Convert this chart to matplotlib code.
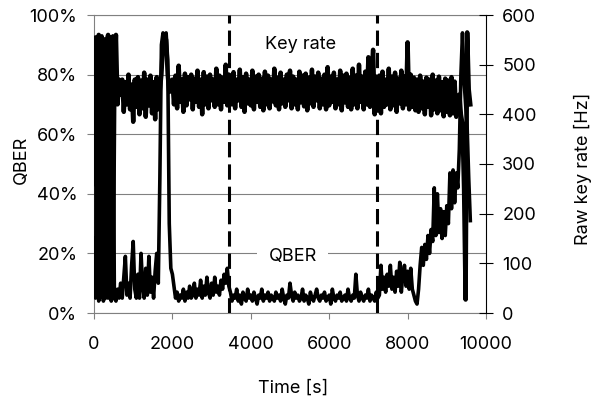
import matplotlib
matplotlib.use("Agg")
import matplotlib.pyplot as plt
import numpy as np
from matplotlib.ticker import PercentFormatter

plt.rcParams['font.family'] = ['Inter', 'DejaVu Sans']
plt.rcParams['path.simplify'] = False

# time axis, one sample every 40 s
time = np.arange(0, 9601, 40)

# raw key rate [Hz]
key_start = [260, 555, 40, 560, 520, 35, 550, 30, 545, 560, 40, 555, 30, 470, 560, 420, 470, 440]
key_early = [470, 405, 465, 420, 480, 410, 460, 385, 470, 415, 475, 400, 468, 412, 484, 395,
             470, 418, 478, 402, 465, 390, 475, 410]
key_spike = [450, 480, 545, 560, 550, 480, 445, 465]
key_mid1 = [470, 420, 478, 412, 498, 425, 470, 405, 482, 418, 475, 430, 480, 410, 472, 425,
            488, 415, 470, 400, 485, 420, 476, 412, 480, 428, 470, 415, 492, 420, 478, 410,
            474, 425, 500, 418, 480]
key_mid2 = [478, 420, 485, 412, 470, 428, 490, 415, 475, 405, 482, 422, 470, 418, 488, 410, 476, 425, 480, 415,
            472, 408, 486, 420, 478, 412, 470, 426, 492, 418, 474, 410, 484, 422, 470, 415, 480, 428, 488, 412,
            476, 420, 470, 410, 486, 424, 478, 416, 482, 408, 474, 422, 490, 415, 476, 428, 484, 412, 472, 420,
            480, 410, 495, 418, 476, 425, 484, 412, 470, 420, 488, 408, 478, 424, 482, 415, 474, 410, 492, 420,
            478, 412, 500, 425, 476, 410, 486, 420, 515, 415, 480, 530, 400, 476, 418]
key_mid3 = [478, 402, 486, 415, 470, 420, 492, 410, 476, 418, 484, 405, 472, 422, 488, 412,
            476, 420, 545, 410, 480, 415, 474, 408]
key_late = [470, 405, 478, 412, 466, 400, 474, 415, 470, 398, 480, 410, 468, 402, 476, 408,
            465, 396, 472, 405, 468, 398, 475, 402, 466, 395]
key_end = [415, 440, 400, 380, 250, 27, 565, 450, 420]

# QBER as fraction
qber_start = [0.25, 0.05, 0.92, 0.04, 0.06, 0.93, 0.04, 0.92, 0.06, 0.05, 0.90, 0.04, 0.93, 0.05,
              0.04, 0.08, 0.05, 0.10]
qber_early = [0.05, 0.12, 0.19, 0.06, 0.10, 0.05, 0.16, 0.24, 0.08, 0.05, 0.13, 0.05, 0.20, 0.09,
              0.05, 0.15, 0.06, 0.19, 0.07, 0.12, 0.05, 0.14, 0.20, 0.10]
qber_spike = [0.45, 0.90, 0.94, 0.93, 0.94, 0.85, 0.30, 0.15]
qber_mid1 = [0.13, 0.09, 0.05, 0.07, 0.04, 0.06, 0.05, 0.08, 0.04, 0.07, 0.05, 0.09, 0.05, 0.06,
             0.10, 0.05, 0.08, 0.06, 0.11, 0.05, 0.09, 0.06, 0.12, 0.07, 0.05, 0.10, 0.06, 0.12,
             0.07, 0.09, 0.06, 0.11, 0.08, 0.13, 0.10, 0.15, 0.09]
qber_mid2 = [0.07, 0.04, 0.06, 0.05, 0.08, 0.04, 0.06, 0.03, 0.07, 0.05, 0.04, 0.08, 0.05, 0.06, 0.04, 0.07, 0.05, 0.03, 0.06, 0.05,
             0.08, 0.04, 0.06, 0.05, 0.07, 0.04, 0.06, 0.05, 0.04, 0.07, 0.05, 0.06, 0.04, 0.08, 0.05, 0.03, 0.06, 0.05, 0.10, 0.06,
             0.04, 0.07, 0.05, 0.06, 0.04, 0.05, 0.08, 0.04, 0.06, 0.05, 0.03, 0.07, 0.05, 0.04, 0.06, 0.08, 0.05, 0.04, 0.06, 0.05,
             0.07, 0.04, 0.05, 0.06, 0.03, 0.08, 0.05, 0.04, 0.06, 0.05, 0.07, 0.04, 0.05, 0.06, 0.04, 0.08, 0.05, 0.04, 0.06, 0.05,
             0.13, 0.06, 0.04, 0.07, 0.05, 0.04, 0.06, 0.05, 0.08, 0.04, 0.06, 0.05, 0.04, 0.07, 0.05]
qber_mid3 = [0.06, 0.16, 0.08, 0.12, 0.07, 0.13, 0.09, 0.16, 0.08, 0.12, 0.07, 0.14, 0.09, 0.17,
             0.07, 0.13, 0.16, 0.09, 0.14, 0.08, 0.15, 0.08, 0.06, 0.04]
qber_late = [0.03, 0.08, 0.16, 0.22, 0.16, 0.23, 0.18, 0.26, 0.20, 0.28, 0.24, 0.42, 0.26, 0.40,
             0.27, 0.35, 0.25, 0.34, 0.26, 0.36, 0.30, 0.47, 0.35, 0.48, 0.37, 0.47]
qber_end = [0.42, 0.55, 0.80, 0.94, 0.78, 0.70, 0.62, 0.45, 0.31]

key_rate = np.array(key_start + key_early + key_spike + key_mid1 + key_mid2 + key_mid3 + key_late + key_end)
qber = np.array(qber_start + qber_early + qber_spike + qber_mid1 + qber_mid2 + qber_mid3 + qber_late + qber_end)

# attack window
marks = [3450, 7230]

grey = '#808080'
fs = 13

fig = plt.figure(figsize=(5.95, 4.03), dpi=100)
ax = fig.add_axes([94/595, 1-313/403, 392/595, 298/403])
ax2 = ax.twinx()

ax.set_xlim(0, 10000)
ax.set_ylim(0, 1)
ax.set_yticks(np.arange(0, 1.01, 0.2))
ax.set_xticks(np.arange(0, 10001, 2000))
ax.yaxis.set_major_formatter(PercentFormatter(1.0, decimals=0))
ax.grid(axis='y', color=grey, lw=0.8)
ax.set_axisbelow(True)

for s in ['left', 'bottom', 'top']:
    ax.spines[s].set_color(grey)
    ax.spines[s].set_linewidth(0.8)
ax.spines['right'].set_visible(False)
ax.tick_params(axis='both', colors=grey, labelcolor='black', labelsize=fs, width=0.8)
ax.tick_params(axis='y', length=5, pad=7)
ax.tick_params(axis='x', length=4.5, pad=12)

for m in marks:
    ax.axvline(m, color='black', lw=2.2, dashes=(5, 2.3), zorder=3)

ax.plot(time, qber, color='black', lw=2.6, zorder=4)

ax2.set_ylim(0, 600)
ax2.set_yticks(np.arange(0, 601, 100))
ax2.plot(time, key_rate, color='black', lw=3.2)
for s in ['left', 'bottom', 'top']:
    ax2.spines[s].set_visible(False)
ax2.spines['right'].set_color('black')
ax2.spines['right'].set_linewidth(0.8)
ax2.tick_params(axis='y', direction='inout', length=9.5, width=0.8, labelsize=fs, pad=7)

ax.text(5280, 0.90, 'Key rate', ha='center', va='center', fontsize=fs)
ax2.text(5064, 0.19 * 600, 'QBER', ha='center', va='center', fontsize=fs,
         bbox=dict(facecolor='white', edgecolor='none', pad=8))

ax.set_xlabel('Time [s]', fontsize=fs)
ax.xaxis.set_label_coords(0.508, -0.225)
ax.set_ylabel('QBER', fontsize=fs)
ax.yaxis.set_label_coords(-0.163, 0.513)
ax2.set_ylabel('Raw key rate [Hz]', fontsize=fs, rotation=90)
ax2.yaxis.set_label_coords(1.224, 0.483)

fig.savefig('out.png', dpi=100)
